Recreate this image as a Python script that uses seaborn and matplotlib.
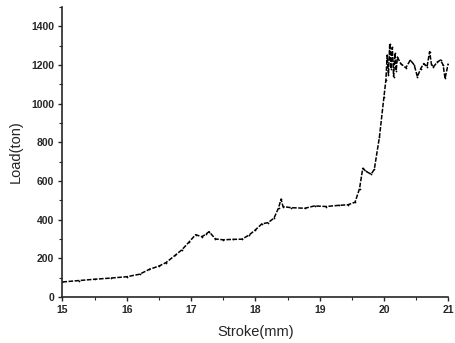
import matplotlib
matplotlib.use('Agg')
import matplotlib.pyplot as plt
from matplotlib.ticker import MultipleLocator
import pandas as pd
import seaborn as sns

# values
stroke = [15.00, 15.25, 15.50, 15.75, 16.00, 16.20, 16.35, 16.50, 16.61, 16.75,
          16.86, 16.97, 17.07, 17.17, 17.23, 17.28, 17.38, 17.50, 17.65, 17.79,
          17.90, 18.00, 18.10, 18.20, 18.29, 18.36, 18.40, 18.43, 18.55, 18.77,
          18.92, 19.10, 19.30, 19.44, 19.55, 19.62, 19.67, 19.72, 19.80, 19.85,
          19.93, 20.00, 20.03, 20.05, 20.07, 20.09, 20.11, 20.13, 20.15, 20.17,
          20.19, 20.21, 20.26, 20.34, 20.41, 20.47, 20.52, 20.57, 20.62, 20.67,
          20.71, 20.74, 20.77, 20.83, 20.88, 20.92, 20.95, 21.00]
load = [78, 85, 92, 98, 105, 118, 143, 160, 178, 215,
        245, 285, 322, 312, 325, 338, 300, 296, 298, 299,
        320, 347, 378, 385, 408, 460, 506, 468, 462, 459,
        471, 468, 474, 477, 490, 560, 665, 650, 635, 660,
        828, 1035, 1121, 1250, 1150, 1310, 1180, 1290, 1140, 1260,
        1170, 1240, 1207, 1185, 1225, 1200, 1139, 1180, 1207, 1190,
        1268, 1200, 1190, 1215, 1225, 1200, 1130, 1207]

xticks = [15, 16, 17, 18, 19, 20, 21]
yticks = [0, 200, 400, 600, 800, 1000, 1200, 1400]

data = pd.DataFrame({'Stroke': stroke, 'Load': load})

sns.set_style('ticks')
plt.rcParams['font.family'] = ['Liberation Sans', 'DejaVu Sans']

fig = plt.figure(figsize=(4.56, 3.43), dpi=100)
ax = fig.add_axes([0.137, 0.134, 0.846, 0.846])

sns.lineplot(x='Stroke', y='Load', data=data, ax=ax, color='black',
             linewidth=1.1, linestyle=(0, (3, 1)), marker='.', markersize=2.5,
             markeredgewidth=0)

ax.set_xlim(15, 21)
ax.set_ylim(0, 1500)
ax.set_xticks(xticks)
ax.set_yticks(yticks)
ax.set_xticklabels([str(t) for t in xticks], fontsize=7.5, fontweight='bold')
ax.set_yticklabels([str(t) for t in yticks], fontsize=7.5, fontweight='bold')
ax.xaxis.set_minor_locator(MultipleLocator(0.5))
ax.yaxis.set_minor_locator(MultipleLocator(100))
ax.tick_params(which='major', direction='out', length=3, width=1, pad=3)
ax.tick_params(which='minor', direction='out', length=2, width=0.8)
ax.set_xlabel('Stroke(mm)', fontsize=10.5, labelpad=7)
ax.set_ylabel('Load(ton)', fontsize=10.5, labelpad=6)
sns.despine(ax=ax)
for s in ['left', 'bottom']:
    ax.spines[s].set_linewidth(1.2)

fig.savefig('out.png', dpi=100)
